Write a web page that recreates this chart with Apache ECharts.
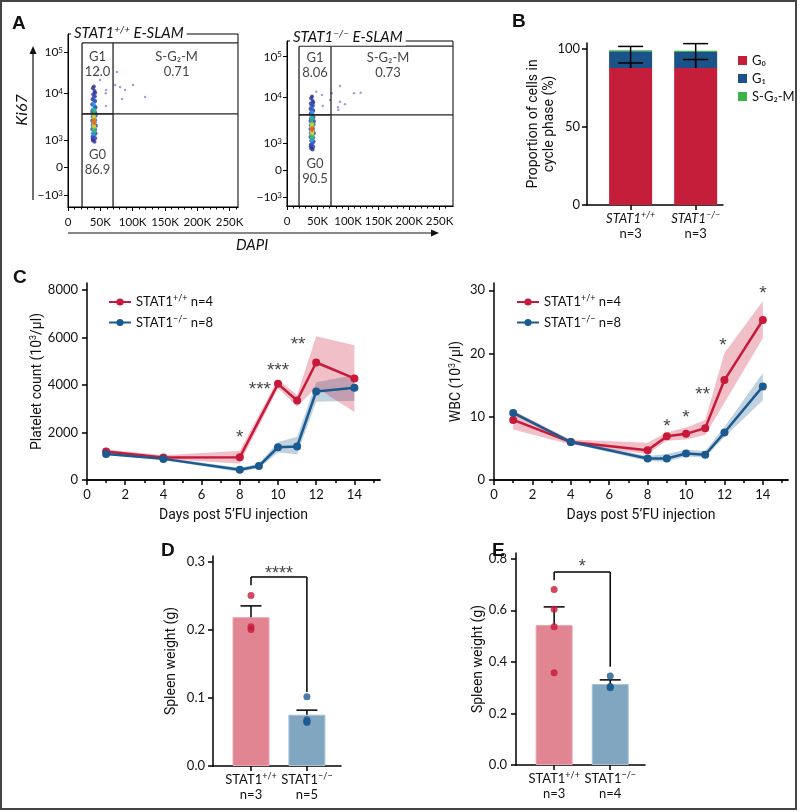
<!DOCTYPE html>
<html><head><meta charset="utf-8">
<script src="https://cdn.jsdelivr.net/npm/echarts@6/dist/echarts.min.js"></script>
<style>html,body{margin:0;padding:0;background:#fff}#c{width:800px;height:812px}</style>
</head><body><div id="c"></div>
<script>
// ================= DATA =================
// Panel A: flow plots (DAPI in K, Ki67 on biexponential display scale)
const flowXTicks = [0, 50, 100, 150, 200, 250];
const flowXTickLabels = ['0', '50K', '100K', '150K', '200K', '250K'];
const flowXMinorTicks = [10,20,30,40,60,70,80,90,110,120,130,140,160,170,180,190,210,220,230,240,260];
const flowYTickPos = [0, 1, 2, 3.7, 5.2];
const flowYTickLabels = ['−10{s|3}', '0', '10{s|3}', '10{s|4}', '10{s|5}'];
// [DAPI K, Ki67 display, density class 0..5]
const flowWT = [
 [38.5,3.88,0],[41,3.78,0],[39,3.66,0],[41.5,3.58,0],[38,3.48,0],[42,3.42,0],[37.5,3.30,0],[42.5,3.18,0],[37.5,3.02,0],[42.5,2.88,0],[37.5,2.70,0],[43,2.52,0],[37.5,2.40,0],[42.5,2.25,0],[38,2.12,0],[42,2.06,0],[38.5,1.98,0],[41,1.94,0],[40,3.95,0],[42,3.72,0],[38,2.05,0],[43,2.95,0],
 [39,3.50,1],[41,3.40,1],[38.5,3.28,1],[41.5,3.22,1],[38,3.08,1],[42,3.02,1],[38,2.85,1],[42,2.72,1],[38,2.55,1],[42,2.38,1],[38.5,2.25,1],[41,2.18,1],[40,3.60,1],[39.5,2.10,1],[42,2.95,1],
 [40,3.30,2],[39,3.12,2],[41,3.10,2],[39,2.92,2],[41.5,2.90,2],[38.5,2.62,2],[41.5,2.65,2],[39,2.38,2],[41,2.32,2],[40,2.22,2],
 [40,3.05,3],[39.5,2.84,3],[41,2.82,3],[39.5,2.50,3],[41,2.45,3],[40,2.35,3],
 [40,2.88,4],[40.5,2.48,4],[41,2.66,4],[39.5,2.70,4],[40,2.78,4],[40,2.56,4],
 [40,2.72,5],[40.5,2.62,5]
];
const flowWTOut = [[58.8,3.82],[75.9,4.47],[72.8,4.0],[80.5,3.93],[88.2,3.82],[100.6,4.0],[119.2,3.56],[83.6,3.49],[58.8,3.24],[49.5,4.18],[58.4,3.70],[47,4.55]];
const flowKO = [
 [39.5,3.66,0],[42,3.56,0],[39,3.46,0],[42.5,3.38,0],[38.5,3.26,0],[43,3.20,0],[38.5,3.08,0],[43.5,2.96,0],[38.5,2.82,0],[43.5,2.68,0],[38.5,2.52,0],[44,2.36,0],[38.5,2.22,0],[43.5,2.06,0],[39,1.94,0],[43,1.86,0],[39.5,1.80,0],[42,1.76,0],[41,3.72,0],[43,3.50,0],[39,1.88,0],[44,2.80,0],
 [40,3.36,1],[42,3.24,1],[39.5,3.12,1],[42.5,3.04,1],[39,2.90,1],[43,2.86,1],[39,2.66,1],[43,2.52,1],[39,2.36,1],[43,2.20,1],[39.5,2.08,1],[42,2.00,1],[41,3.44,1],[40.5,1.94,1],[43,2.74,1],
 [41,3.14,2],[40,2.98,2],[42,2.94,2],[40,2.78,2],[42.5,2.72,2],[39.5,2.46,2],[42.5,2.44,2],[40,2.24,2],[42,2.18,2],[41,2.10,2],
 [41,2.88,3],[40.5,2.70,3],[42,2.64,3],[40.5,2.34,3],[42,2.30,3],[41,2.20,3],
 [41,2.60,4],[41.5,2.36,4],[42,2.50,4],[40.5,2.52,4],[41,2.70,4],[41,2.42,4],
 [41,2.48,5],[41.5,2.55,5]
];
const flowKOOut = [[73.3,3.84],[57.4,3.78],[70.5,3.59],[86.9,3.53],[83.6,3.33],[95.1,3.44],[86.9,4.11],[109.8,3.84],[120.8,3.86],[84.1,3.22],[58.5,3.37],[48,3.9]];
const gateWT = {x1: 21.7, x2: 69.7, split: 2.95, top: 5.53};
const gateKO = {x1: 19.7, x2: 72.1, split: 3.04, top: 5.59};
const gateTextWT = [[45.7, 4.76, 'G1\n12.0'], [168, 4.76, 'S-G₂-M\n0.71'], [45.7, 1.2, 'G0\n86.9']];
const gateTextKO = [[45.9, 4.89, 'G1\n8.06'], [165.5, 4.89, 'S-G₂-M\n0.73'], [45.9, 0.94, 'G0\n90.5']];

// Panel B: cell cycle proportions (%)
const phaseNames = ['G₀', 'G₁', 'S-G₂-M'];
const bG0 = [88.0, 88.0];
const bG1 = [10.7, 10.3];
const bSG2M = [0.7, 0.7];
const bG0Err = [3.2, 5.4];
const bG1Err = [3.1, 5.3];
const bYTicks = [0, 50, 100];
const bN = ['n=3', 'n=3'];

// Panel C: 5'FU time course
const cXTicks = [0, 2, 4, 6, 8, 10, 12, 14];
const cXMinor = [1, 3, 5, 7, 9, 11, 13, 15];
const pltYTicks = [0, 2000, 4000, 6000, 8000];
const wbcYTicks = [0, 10, 20, 30];
const pltDaysWT = [1, 4, 8, 10, 11, 12, 14];
const pltWT   = [1200, 950, 960, 4050, 3350, 4950, 4280];
const pltWTlo = [1130, 870, 700, 3870, 3100, 3900, 2870];
const pltWThi = [1290, 1040, 1230, 4250, 3580, 6060, 5680];
const pltDaysKO = [1, 4, 8, 9, 10, 11, 12, 14];
const pltKO   = [1100, 890, 430, 590, 1380, 1410, 3730, 3890];
const pltKOlo = [1050, 840, 340, 510, 1160, 1080, 3300, 3340];
const pltKOhi = [1160, 950, 520, 680, 1600, 1820, 4120, 4420];
const pltStars = [[8, 1950, '*'], [9.05, 3950, '***'], [10, 4750, '***'], [11.05, 5850, '**']];
const wbcDays = [1, 4, 8, 9, 10, 11, 12, 14];
const wbcWT   = [9.5, 6.0, 4.7, 6.9, 7.3, 8.2, 15.8, 25.3];
const wbcWTlo = [8.0, 5.6, 4.1, 6.2, 6.4, 7.1, 12.2, 22.4];
const wbcWThi = [10.9, 6.4, 5.9, 7.5, 8.3, 9.5, 20.1, 28.3];
const wbcKO   = [10.6, 6.0, 3.4, 3.4, 4.2, 4.0, 7.5, 14.8];
const wbcKOlo = [10.3, 5.8, 3.0, 2.9, 3.7, 3.6, 6.8, 12.6];
const wbcKOhi = [11.0, 6.2, 3.8, 4.1, 4.8, 4.6, 8.4, 16.9];
const wbcStars = [[9, 9.05, '*'], [10, 10.5, '*'], [10.87, 14.1, '**'], [11.92, 21.8, '*'], [14, 30.1, '*']];
const legendText = {WT: 'STAT1{sup|+/+} n=4', KO: 'STAT1{sup|−/−} n=8'};

// Panels D, E: spleen weight (g)
const groupLabels = ['STAT1{sup|+/+}', 'STAT1{sup|−/−}'];
const dMean = [0.219, 0.0755];
const dSem = [0.0166, 0.0067];
const dPtsWT = [0.251, 0.205, 0.201];
const dPtsKO = [0.102, 0.068, 0.066, 0.065, 0.064];
const dN = ['n=3', 'n=5'];
const dYTicks = [0, 0.1, 0.2, 0.3];
const dSig = {y1: 0.266, top: 0.278, y2: 0.109, star: 0.289, text: '****'};
const eMean = [0.543, 0.314];
const eSem = [0.070, 0.016];
const ePtsWT = [0.680, 0.604, 0.536, 0.358];
const ePtsKO = [0.345, 0.304, 0.300, 0.302];
const eN = ['n=3', 'n=4'];
const eYTicks = [0, 0.2, 0.4, 0.6, 0.8];
const eSig = {y1: 0.716, top: 0.748, y2: 0.381, star: 0.782, text: '*'};

// ================= STYLE =================
const FONT = 'Lato, "Noto Sans", sans-serif';
const NAMEFONT = 'Roboto, Lato, sans-serif';
const STARFONT = '"Liberation Sans", Arial, sans-serif';
const RED = '#c8193a', BLUE = '#1b5a8e', GREEN = '#3bb54a';
const DENS = ['#2b2f8f', '#3a55c8', '#22a8d8', '#3dbb5a', '#e6d32a', '#e4572a'];

const chart = echarts.init(document.getElementById('c'), null, {renderer: 'canvas', width: 800, height: 812});

const gridDefs = [
  {left: 68, top: 34, width: 170, height: 173, show: true, borderColor: '#000', borderWidth: 1},
  {left: 287, top: 41, width: 166, height: 165, show: true, borderColor: '#000', borderWidth: 1},
  {left: 587, top: 43, width: 136, height: 162},
  {left: 87, top: 283, width: 293, height: 197},
  {left: 494, top: 283, width: 294, height: 197},
  {left: 213, top: 556, width: 128, height: 210},
  {left: 516, top: 553, width: 129, height: 212}
].map(g => Object.assign({containLabel: false, outerBoundsMode: 'none'}, g));

function axis(kind, grid, min, max, o) {
  const lw = o.lw || 1.5;
  const a = {
    gridIndex: grid, type: 'value', min, max,
    position: kind === 'x' ? 'bottom' : 'left',
    splitLine: {show: false},
    axisLine: {show: true, onZero: false, lineStyle: {color: '#000', width: lw}},
    axisTick: {show: true, length: o.tl || 5, customValues: o.ticks, lineStyle: {color: '#000', width: lw}},
    axisLabel: {show: !!o.labels, customValues: o.labels, formatter: o.fmt || (v => String(v)), margin: o.margin || 8,
      color: '#111', fontSize: o.fs || 13, fontFamily: FONT, rich: o.rich},
    nameMoveOverlap: false
  };
  if (o.name) {
    a.name = o.name; a.nameLocation = 'middle'; a.nameGap = o.nameGap;
    a.nameTextStyle = {fontFamily: NAMEFONT, fontSize: o.nfs || 14, color: '#111', lineHeight: o.nlh || 16,
      rich: {sup: {fontSize: 9, verticalAlign: 'top', lineHeight: 10, fontFamily: NAMEFONT, color: '#111'}}};
  }
  return a;
}
const flowXfmt = v => flowXTickLabels[flowXTicks.indexOf(v)];
const flowYfmt = v => {
  let k = 0; flowYTickPos.forEach((p, i) => { if (Math.abs(p - v) < 1e-6) k = i; });
  return flowYTickLabels[k];
};
const flowYRich = {s: {fontSize: 8, verticalAlign: 'top', lineHeight: 9, fontFamily: FONT, color: '#111'}};
const grpRich = (italic) => ({
  g: {fontSize: 13, fontFamily: FONT, fontStyle: italic ? 'italic' : 'normal', color: '#111', lineHeight: 15},
  sup: {fontSize: 9, fontFamily: FONT, fontStyle: italic ? 'italic' : 'normal', verticalAlign: 'top', lineHeight: 9, color: '#111'},
  n: {fontSize: 13, fontFamily: FONT, color: '#111', lineHeight: 15}
});
const grpFmt = (ns) => v => {
  const i = Math.round(v);
  return '{g|' + groupLabels[i].replace('{sup|', '}{sup|') + '{g|}' + '\n{n|' + ns[i] + '}';
};

const xAxes = [
  axis('x', 0, 0, 263, {lw: 1, tl: 4, ticks: flowXTicks, labels: flowXTicks, fmt: flowXfmt, fs: 11.5, margin: 9}),
  axis('x', 0, 0, 263, {lw: 1, tl: 2.5, ticks: flowXMinorTicks}),
  axis('x', 1, 0, 272, {lw: 1, tl: 4, ticks: flowXTicks, labels: flowXTicks, fmt: flowXfmt, fs: 11.5, margin: 9}),
  axis('x', 1, 0, 272, {lw: 1, tl: 2.5, ticks: flowXMinorTicks}),
  axis('x', 2, -0.67, 1.42, {ticks: [0, 1], labels: [0, 1], fmt: grpFmt(bN), rich: grpRich(true), margin: 6}),
  axis('x', 3, 0, 15.34, {ticks: cXTicks, labels: cXTicks, name: 'Days post 5’FU injection', nameGap: 27}),
  axis('x', 3, 0, 15.34, {ticks: cXMinor, tl: 3}),
  axis('x', 4, 0, 15.31, {ticks: cXTicks, labels: cXTicks, name: 'Days post 5’FU injection', nameGap: 27}),
  axis('x', 4, 0, 15.31, {ticks: cXMinor, tl: 3}),
  axis('x', 5, -0.68, 1.61, {ticks: [0, 1], labels: [0, 1], fmt: grpFmt(dN), rich: grpRich(false), margin: 6}),
  axis('x', 6, -0.68, 1.62, {ticks: [0, 1], labels: [0, 1], fmt: grpFmt(eN), rich: grpRich(false), margin: 6})
];
const yAxes = [
  axis('y', 0, -0.436, 5.855, {lw: 1, tl: 4, ticks: flowYTickPos, labels: flowYTickPos, fmt: flowYfmt, rich: flowYRich, fs: 12, margin: 5}),
  axis('y', 1, -0.333, 5.78, {lw: 1, tl: 4, ticks: flowYTickPos, labels: flowYTickPos, fmt: flowYfmt, rich: flowYRich, fs: 12, margin: 5}),
  axis('y', 2, 0, 104, {ticks: bYTicks, labels: bYTicks, name: 'Proportion of cells in\ncycle phase (%)', nameGap: 30, margin: 7}),
  axis('y', 3, 0, 8300, {ticks: pltYTicks, labels: pltYTicks, name: 'Platelet count (10{sup|3}/μl)', nameGap: 42, margin: 9}),
  axis('y', 4, 0, 31.15, {ticks: wbcYTicks, labels: wbcYTicks, name: 'WBC (10{sup|3}/μl)', nameGap: 30, margin: 9}),
  axis('y', 5, 0, 0.309, {ticks: dYTicks, labels: dYTicks, fmt: v => v.toFixed(1), name: 'Spleen weight (g)', nameGap: 34, margin: 8}),
  axis('y', 6, 0, 0.822, {ticks: eYTicks, labels: eYTicks, fmt: v => v.toFixed(1), name: 'Spleen weight (g)', nameGap: 30, margin: 9})
];

// ---------- custom renderers ----------
const segRender = (w, color) => (params, api) => {
  const p1 = api.coord([api.value(0), api.value(1)]);
  const p2 = api.coord([api.value(2), api.value(3)]);
  return {type: 'line', shape: {x1: p1[0], y1: p1[1], x2: p2[0], y2: p2[1]}, style: {stroke: color, lineWidth: w}};
};
const errRender = (half) => (params, api) => {
  const x = api.value(0);
  const p1 = api.coord([x, api.value(1)]);
  const p2 = api.coord([x, api.value(2)]);
  return {type: 'group', children: [
    {type: 'line', shape: {x1: p1[0], y1: p1[1], x2: p2[0], y2: p2[1]}, style: {stroke: '#000', lineWidth: 1.5}},
    {type: 'line', shape: {x1: p2[0] - half, y1: p2[1], x2: p2[0] + half, y2: p2[1]}, style: {stroke: '#000', lineWidth: 1.5}}
  ]};
};
const rectRender = (w, color) => (params, api) => {
  const x = api.value(0);
  const p1 = api.coord([x, api.value(1)]);
  const p2 = api.coord([x, api.value(2)]);
  return {type: 'rect', shape: {x: p1[0] - w / 2, y: p2[1], width: w, height: p1[1] - p2[1]}, style: {fill: color}};
};
function seg(xi, yi, data, w, color, z) {
  return {type: 'custom', xAxisIndex: xi, yAxisIndex: yi, renderItem: segRender(w, color), data,
    encode: {x: [0, 2], y: [1, 3]}, silent: true, z: z || 5, clip: false};
}
function textPts(xi, yi, data, fs, z, offY, font) {
  return {type: 'scatter', xAxisIndex: xi, yAxisIndex: yi, data, symbolSize: 0, silent: true, z: z || 6,
    label: {show: true, position: 'inside', formatter: p => p.data[2], fontSize: fs, fontFamily: font || FONT,
      color: '#111', lineHeight: fs + 2, offset: [0, offY || 0]}};
}
function gateSegs(g, xa, ya) {
  return [[g.x1, ya[0], g.x1, g.top], [g.x2, ya[0], g.x2, g.top], [g.x1, g.top, xa[1], g.top],
          [g.x1, g.split, xa[1], g.split], [g.x1, g.split, g.x2, g.split]];
}
const zip = (xs, ys) => xs.map((x, i) => [x, ys[i]]);
function band(xi, yi, xs, lo, hi, color) {
  return {type: 'custom', xAxisIndex: xi, yAxisIndex: yi, data: xs.map((x, i) => [x, lo[i], hi[i]]),
    encode: {x: 0, y: [1, 2]}, silent: true, z: 2,
    renderItem: (params, api) => {
      if (params.dataIndex !== 0) return null;
      const top = xs.map((x, i) => api.coord([x, hi[i]]));
      const bot = xs.map((x, i) => api.coord([x, lo[i]])).reverse();
      return {type: 'polygon', shape: {points: top.concat(bot)}, style: {fill: color}};
    }};
}
function mainLine(xi, yi, name, xs, ys, color) {
  return {type: 'line', name, xAxisIndex: xi, yAxisIndex: yi, data: zip(xs, ys), symbol: 'circle', symbolSize: 8,
    itemStyle: {color}, lineStyle: {color, width: 2.5}, z: 4};
}

const series = [];
// ---- A ----
series.push({type: 'scatter', xAxisIndex: 0, yAxisIndex: 0, data: flowWTOut, symbolSize: 2.5, itemStyle: {color: '#8a8ad0'}, silent: true});
series.push({type: 'scatter', xAxisIndex: 0, yAxisIndex: 0, data: flowWT, symbolSize: 4, itemStyle: {color: p => DENS[p.data[2]]}, silent: true});
series.push(seg(0, 0, gateSegs(gateWT, [0, 263], [-0.436, 5.855]), 1.3, '#222'));
series.push(textPts(0, 0, gateTextWT, 13));
series.push({type: 'scatter', xAxisIndex: 2, yAxisIndex: 1, data: flowKOOut, symbolSize: 2.5, itemStyle: {color: '#8a8ad0'}, silent: true});
series.push({type: 'scatter', xAxisIndex: 2, yAxisIndex: 1, data: flowKO, symbolSize: 4, itemStyle: {color: p => DENS[p.data[2]]}, silent: true});
series.push(seg(2, 1, gateSegs(gateKO, [0, 272], [-0.333, 5.78]), 1.3, '#222'));
series.push(textPts(2, 1, gateTextKO, 13));
// ---- B ---- (stacked segments built from the phase arrays)
const bX = [0, 1];
const bLayers = [[phaseNames[0], bG0, '#c41e3a'], [phaseNames[1], bG1, '#1b5287'], [phaseNames[2], bSG2M, GREEN]];
const bBase = bX.map(() => 0);
bLayers.forEach(([n, v, c]) => {
  const data = bX.map((x, i) => [x, bBase[i], bBase[i] + v[i]]);
  bX.forEach((x, i) => { bBase[i] += v[i]; });
  series.push({type: 'custom', name: n, xAxisIndex: 4, yAxisIndex: 2, renderItem: rectRender(43, c), data,
    encode: {x: 0, y: [1, 2]}, itemStyle: {color: c}, silent: true, z: 2});
});
const bErr = [];
bX.forEach((x, i) => {
  bErr.push([x, bG0[i], bG0[i] + bG1[i] + bG1Err[i]]);
  bErr.push([x, bG0[i], bG0[i] + bG0Err[i]]);
});
series.push({type: 'custom', xAxisIndex: 4, yAxisIndex: 2, renderItem: errRender(12.5), data: bErr, encode: {x: 0, y: [1, 2]}, z: 5, silent: true, clip: false});
// ---- C left ----
series.push(band(5, 3, pltDaysKO, pltKOlo, pltKOhi, 'rgba(27,90,142,0.28)'));
series.push(band(5, 3, pltDaysWT, pltWTlo, pltWThi, 'rgba(200,25,58,0.28)'));
series.push(mainLine(5, 3, 'WT', pltDaysWT, pltWT, RED));
series.push(mainLine(5, 3, 'KO', pltDaysKO, pltKO, BLUE));
series.push(textPts(5, 3, pltStars, 19, 6, 4, STARFONT));
// ---- C right ----
series.push(band(7, 4, wbcDays, wbcKOlo, wbcKOhi, 'rgba(27,90,142,0.28)'));
series.push(band(7, 4, wbcDays, wbcWTlo, wbcWThi, 'rgba(200,25,58,0.28)'));
series.push(mainLine(7, 4, 'WT', wbcDays, wbcWT, RED));
series.push(mainLine(7, 4, 'KO', wbcDays, wbcKO, BLUE));
series.push(textPts(7, 4, wbcStars, 19, 6, 4, STARFONT));
// ---- D & E ----
function spleen(xi, yi, mean, sem, ptsWT, ptsKO, sig) {
  series.push({type: 'bar', xAxisIndex: xi, yAxisIndex: yi, barWidth: 37, silent: true, z: 2,
    data: [
      {value: [0, mean[0]], itemStyle: {color: '#e08591', borderColor: '#eba6b0', borderWidth: 1}},
      {value: [1, mean[1]], itemStyle: {color: '#80a6c0', borderColor: '#a8c3d6', borderWidth: 1}}
    ]});
  series.push({type: 'custom', xAxisIndex: xi, yAxisIndex: yi, renderItem: errRender(10.5),
    data: [[0, mean[0], mean[0] + sem[0]], [1, mean[1], mean[1] + sem[1]]], encode: {x: 0, y: [1, 2]}, z: 4, silent: true});
  series.push({type: 'scatter', xAxisIndex: xi, yAxisIndex: yi, data: ptsWT.map(v => [0, v]), symbolSize: 7, itemStyle: {color: RED}, z: 5, silent: true});
  series.push({type: 'scatter', xAxisIndex: xi, yAxisIndex: yi, data: ptsKO.map(v => [1, v]), symbolSize: 7, itemStyle: {color: BLUE}, z: 5, silent: true});
  series.push(seg(xi, yi, [[0, sig.y1, 0, sig.top], [0, sig.top, 1, sig.top], [1, sig.top, 1, sig.y2]], 1.5, '#000', 5));
  series.push(textPts(xi, yi, [[0.5, sig.star, sig.text]], 18, 6, 4, STARFONT));
}
spleen(9, 5, dMean, dSem, dPtsWT, dPtsKO, dSig);
spleen(10, 6, eMean, eSem, ePtsWT, ePtsKO, eSig);

// ---------- legends ----------
const legRich = {
  t: {fontSize: 13, fontFamily: FONT, color: '#111', lineHeight: 16},
  sup: {fontSize: 9, fontFamily: FONT, color: '#111', verticalAlign: 'top', lineHeight: 9}
};
const legFmt = n => '{t|' + legendText[n].replace('{sup|', '}{sup|').replace('} n', '}{t| n') + '}';
const cLegend = (left) => ({
  data: ['WT', 'KO'], left, top: 289, orient: 'vertical', itemWidth: 22, itemHeight: 9, itemGap: 6,
  formatter: legFmt, textStyle: {rich: legRich}, selectedMode: false
});
const legends = [
  {data: phaseNames, left: 733, top: 49, orient: 'vertical', icon: 'rect', itemWidth: 9, itemHeight: 9, itemGap: 5,
    textStyle: {fontSize: 13, fontFamily: FONT, color: '#111'}, selectedMode: false},
  cLegend(103), cLegend(511)
];

// ---------- decorations ----------
const titleRich = {
  a: {fontSize: 15, fontStyle: 'italic', fontFamily: FONT, fill: '#111', lineHeight: 17},
  s: {fontSize: 10, fontStyle: 'italic', fontFamily: FONT, fill: '#111', verticalAlign: 'top', lineHeight: 10}
};
const letter = (t, x, y) => ({type: 'text', x, y, z: 100, style: {text: t, font: 'bold 19px "Liberation Sans", Arial, sans-serif', fill: '#111'}});
const graphics = [
  {type: 'rect', z: 100, shape: {x: 1, y: 1, width: 795, height: 808}, style: {fill: 'none', stroke: '#444', lineWidth: 2}},
  letter('A', 12, 14), letter('B', 512, 12), letter('C', 13, 268), letter('D', 161, 541), letter('E', 492, 541),
  {type: 'text', x: 71, y: 33, z: 100, style: {text: '{a|STAT1}{s|+/+}{a| E-SLAM}', rich: titleRich, verticalAlign: 'middle', backgroundColor: '#fff', padding: [0, 3]}},
  {type: 'text', x: 290, y: 37, z: 100, style: {text: '{a|STAT1}{s|−/−}{a| E-SLAM}', rich: titleRich, verticalAlign: 'middle', backgroundColor: '#fff', padding: [0, 3]}},
  {type: 'line', z: 100, shape: {x1: 68, y1: 233, x2: 433, y2: 233}, style: {stroke: '#111', lineWidth: 1.2}},
  {type: 'polygon', z: 100, shape: {points: [[431, 229.5], [439, 233], [431, 236.5]]}, style: {fill: '#111'}},
  {type: 'text', x: 236, y: 245, z: 100, style: {text: 'DAPI', font: 'italic 15px Lato, sans-serif', fill: '#111', verticalAlign: 'middle'}},
  {type: 'line', z: 100, shape: {x1: 33, y1: 200, x2: 33, y2: 52}, style: {stroke: '#111', lineWidth: 1.2}},
  {type: 'polygon', z: 100, shape: {points: [[29.5, 54], [33, 46], [36.5, 54]]}, style: {fill: '#111'}},
  {type: 'text', x: 22, y: 110, rotation: Math.PI / 2, z: 100, style: {text: 'Ki67', font: 'italic 16px Lato, sans-serif', fill: '#111', align: 'center', verticalAlign: 'middle'}}
];

chart.setOption({
  animation: false,
  backgroundColor: '#fff',
  grid: gridDefs,
  xAxis: xAxes,
  yAxis: yAxes,
  legend: legends,
  series,
  graphic: graphics
});
</script>
</body></html>
